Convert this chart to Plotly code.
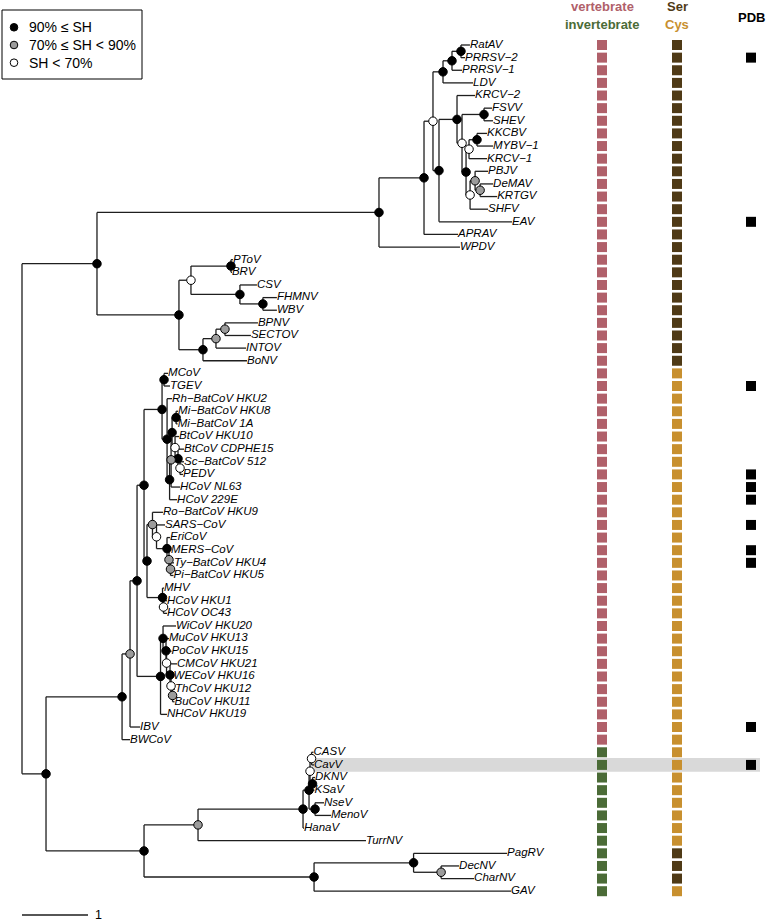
import plotly.graph_objects as go

# ---------------- data ----------------
# Tree topology with branch lengths (substitutions/site); internal labels = support class
# b: 90% <= SH, g: 70% <= SH < 90%, w: SH < 70%
NEWICK = (
    "("
    # Arteriviridae-like clade
    "(((((((RatAV:0.136,PRRSV-2:0.061)b:0.136,PRRSV-1:0.152)b:0.136,LDV:0.455)b:0.152,"
    "((KRCV-2:0.273,((FSVV:0.121,SHEV:0.136)b:0.333,(((KKCBV:0.152,MYBV-1:0.242)b:0.121,KRCV-1:0.273)w:0.045,"
    "((PBJV:0.197,(DeMAV:0.197,KRTGV:0.258)g:0.076)g:0.076,SHFV:0.273)w:0.061)b:0.061)w:0.076)b:0.273,"
    "EAV:1.106)b:0.091)w:0.136,APRAV:0.515)b:0.682,WPDV:1.227)b:4.273,"
    # Toro-like clade
    "(((PToV:0.030,BRV:0.015)b:0.606,(CSV:0.258,(FHMNV:0.212,WBV:0.212)b:0.348)b:0.742)w:0.182,"
    "(((BPNV:0.5,SECTOV:0.394)g:0.136,INTOV:0.455)g:0.197,BoNV:0.667)b:0.364)b:1.242)b:1.136,"
    # Coronaviridae + invertebrate nidoviruses
    "(((((((MCoV:0.061,TGEV:0.091)b:0.030,(Rh-BatCoV_HKU2:0.076,((((Mi-BatCoV_HKU8:0.030,Mi-BatCoV_1A:0.023)b:0.061,"
    "(BtCoV_HKU10:0.061,(BtCoV_CDPHE15:0.091,(Sc-BatCoV_512:0.061,PEDV:0.045)w:0.030)b:0.045)w:0.045)b:0.015,"
    "HCoV_NL63:0.136)g:0.023,HCoV_229E:0.114)b:0.038)b:0.076)b:0.273,"
    "((Ro-BatCoV_HKU9:0.159,(SARS-CoV:0.129,(EriCoV:0.045,(MERS-CoV:0.030,(Ty-BatCoV_HKU4:0.053,Pi-BatCoV_HKU5:0.045)g:0.023)g:0.030)b:0.159)w:0.061)g:0.083,"
    "(MHV:0.023,(HCoV_HKU1:0.053,HCoV_OC43:0.053)w:0.015)b:0.235)b:0.045)b:0.106,"
    "((WiCoV_HKU20:0.197,(MuCoV_HKU13:0.045,(PoCoV_HKU15:0.076,(CMCoV_HKU21:0.106,(WECoV_HKU16:0.038,"
    "(ThCoV_HKU12:0.038,BuCoV_HKU11:0.030)g:0.023)w:0.015)b:0.053)w:0.008)b:0.045)b:0.038,NHCoV_HKU19:0.098)b:0.356)b:0.106,"
    "IBV:0.152)g:0.121,BWCoV:0.121)b:1.152,"
    "((((((CASV:0.030,CavV:0.038)w:0.023,(DKNV:0.038,KSaV:0.030)b:0.038)w:0.015,(NseV:0.136,MenoV:0.242)b:0.091)b:0.091,"
    "HanaV:0.015)b:1.591,TurrNV:2.545)g:0.818,((PagRV:1.417,(DecNV:0.273,CharNV:0.5)g:0.417)b:1.508,GAV:2.985)b:2.576)b:1.485)b:0.364"
    ");"
)

invertebrate_host = ["CASV", "CavV", "DKNV", "KSaV", "NseV", "MenoV", "HanaV",
                     "TurrNV", "PagRV", "DecNV", "CharNV", "GAV"]
ser_protease = ["RatAV", "PRRSV-2", "PRRSV-1", "LDV", "KRCV-2", "FSVV", "SHEV", "KKCBV",
                "MYBV-1", "KRCV-1", "PBJV", "DeMAV", "KRTGV", "SHFV", "EAV", "APRAV", "WPDV",
                "PToV", "BRV", "CSV", "FHMNV", "WBV", "BPNV", "SECTOV", "INTOV", "BoNV",
                "PagRV", "DecNV", "CharNV"]
pdb_structure = ["PRRSV-2", "EAV", "TGEV", "PEDV", "HCoV_NL63", "HCoV_229E", "SARS-CoV",
                 "MERS-CoV", "Ty-BatCoV_HKU4", "IBV", "CavV"]
highlighted = ["CavV"]

support_legend = ["90% ≤ SH", "70% ≤ SH < 90%", "SH < 70%"]
support_codes = ["b", "g", "w"]
scale_bar_length = 1

# ---------------- styles ----------------
W, H = 767, 922
ROOT_PX, UNIT_PX = 22, 66
ROW0_PX, ROW_PX = 45, 12.63
SUPPORT_COLOR = {"b": "black", "g": "#9c9c9c", "w": "white"}
VERT_C, INV_C = "#b0606a", "#4b6b37"
SER_C, CYS_C = "#4f3a16", "#c8902f"
COL_HOST_PX, COL_PROT_PX, COL_PDB_PX = 602, 677, 751
FONT = "Liberation Sans, Arial, Helvetica, sans-serif"


def px2x(px):
    return (px - ROOT_PX) / UNIT_PX


def parse_newick(s):
    s = s.replace(" ", "")
    pos = 0

    def node():
        nonlocal pos
        n = {"children": [], "name": "", "length": 0.0}
        if s[pos] == "(":
            pos += 1
            while True:
                n["children"].append(node())
                if s[pos] == ",":
                    pos += 1
                elif s[pos] == ")":
                    pos += 1
                    break
                else:
                    raise ValueError("bad newick at %d" % pos)
        st = pos
        while pos < len(s) and s[pos] not in ":,();":
            pos += 1
        n["name"] = s[st:pos]
        if pos < len(s) and s[pos] == ":":
            pos += 1
            st = pos
            while s[pos] not in ",();":
                pos += 1
            n["length"] = float(s[st:pos])
        return n

    return node()


tree = parse_newick(NEWICK)
tips, internals = [], []


def place(n, depth):
    n["x"] = depth + n["length"]
    if not n["children"]:
        n["y"] = len(tips)
        tips.append(n)
    else:
        for c in n["children"]:
            place(c, n["x"])
        n["y"] = (n["children"][0]["y"] + n["children"][-1]["y"]) / 2
        internals.append(n)


place(tree, 0.0)

lx, ly = [], []
for n in internals:
    lx += [n["x"], n["x"], None]
    ly += [n["children"][0]["y"], n["children"][-1]["y"], None]
    for c in n["children"]:
        lx += [n["x"], c["x"], None]
        ly += [c["y"], c["y"], None]

fig = go.Figure()

# highlight band
for name in highlighted:
    t = next(t for t in tips if t["name"] == name)
    fig.add_shape(type="rect", x0=t["x"] - 0.03, x1=px2x(COL_PDB_PX + 9),
                  y0=t["y"] - 0.54, y1=t["y"] + 0.54,
                  fillcolor="#d9d9d9", line_width=0, layer="below")

fig.add_trace(go.Scatter(x=lx, y=ly, mode="lines",
                         line=dict(color="#1e1e1e", width=1.3), hoverinfo="skip"))

nodes = [n for n in internals if n["name"] in SUPPORT_COLOR]
fig.add_trace(go.Scatter(
    x=[n["x"] for n in nodes], y=[n["y"] for n in nodes], mode="markers",
    marker=dict(size=8.5, color=[SUPPORT_COLOR[n["name"]] for n in nodes],
                line=dict(color="black", width=1)), hoverinfo="skip"))

fig.add_trace(go.Scatter(
    x=[t["x"] for t in tips], y=[t["y"] for t in tips], mode="text",
    text=[t["name"].replace("_", " ").replace("-", "−") for t in tips],
    textposition="middle right",
    textfont=dict(family=FONT, size=11.5, color="black", style="italic"),
    hoverinfo="skip"))

ys = [t["y"] for t in tips]
fig.add_trace(go.Scatter(
    x=[px2x(COL_HOST_PX)] * len(tips), y=ys, mode="markers",
    marker=dict(symbol="square", size=10,
                color=[INV_C if t["name"] in invertebrate_host else VERT_C for t in tips]),
    hoverinfo="skip"))
fig.add_trace(go.Scatter(
    x=[px2x(COL_PROT_PX)] * len(tips), y=ys, mode="markers",
    marker=dict(symbol="square", size=10,
                color=[SER_C if t["name"] in ser_protease else CYS_C for t in tips]),
    hoverinfo="skip"))
pdb_tips = [t for t in tips if t["name"] in pdb_structure]
fig.add_trace(go.Scatter(
    x=[px2x(COL_PDB_PX)] * len(pdb_tips), y=[t["y"] for t in pdb_tips], mode="markers",
    marker=dict(symbol="square", size=10, color="black"), hoverinfo="skip"))

# scale bar
sb_row = (915 - ROW0_PX) / ROW_PX
fig.add_trace(go.Scatter(x=[0, scale_bar_length], y=[sb_row, sb_row], mode="lines",
                         line=dict(color="#1e1e1e", width=1.3), hoverinfo="skip"))
fig.add_annotation(x=scale_bar_length + 5 / UNIT_PX, y=sb_row, text=str(scale_bar_length),
                   showarrow=False, xanchor="left", yanchor="middle",
                   font=dict(family=FONT, size=12.5, color="black"))


def py(p):
    return 1 - p / H


def pxp(p):
    return p / W


# headers
hdr = [("vertebrate", COL_HOST_PX, 7, VERT_C), ("invertebrate", COL_HOST_PX, 25, INV_C),
       ("Ser", COL_PROT_PX, 7, SER_C), ("Cys", COL_PROT_PX, 25, CYS_C),
       ("PDB", COL_PDB_PX, 18, "black")]
for txt, xp, yp, col in hdr:
    fig.add_annotation(x=pxp(xp), y=py(yp), xref="paper", yref="paper", text=f"<b>{txt}</b>",
                       showarrow=False, xanchor="center", yanchor="middle",
                       font=dict(family=FONT, size=13, color=col))

# legend box
fig.add_shape(type="rect", xref="paper", yref="paper", x0=pxp(2), x1=pxp(142),
              y0=py(79), y1=py(10), line=dict(color="black", width=1), fillcolor="white")
for i, (lab, code) in enumerate(zip(support_legend, support_codes)):
    cy = 27.3 + i * 17.7
    fig.add_shape(type="circle", xref="paper", yref="paper",
                  x0=pxp(14 - 3.8), x1=pxp(14 + 3.8), y0=py(cy + 3.8), y1=py(cy - 3.8),
                  fillcolor=SUPPORT_COLOR[code], line=dict(color="black", width=1))
    fig.add_annotation(x=pxp(27), y=py(cy), xref="paper", yref="paper", text=lab,
                       showarrow=False, xanchor="left", yanchor="middle",
                       font=dict(family=FONT, size=14, color="black"))

fig.update_layout(
    width=W, height=H, margin=dict(l=0, r=0, t=0, b=0),
    plot_bgcolor="white", paper_bgcolor="white", showlegend=False,
    xaxis=dict(visible=False, range=[px2x(0), px2x(W)], fixedrange=True),
    yaxis=dict(visible=False, range=[(H - ROW0_PX) / ROW_PX, -ROW0_PX / ROW_PX], fixedrange=True),
)

fig.write_html(
    "out.html",
    config={"displayModeBar": False},
    post_script="document.body.style.margin='0';document.body.style.padding='0';"
                "document.body.style.overflow='hidden';",
)
